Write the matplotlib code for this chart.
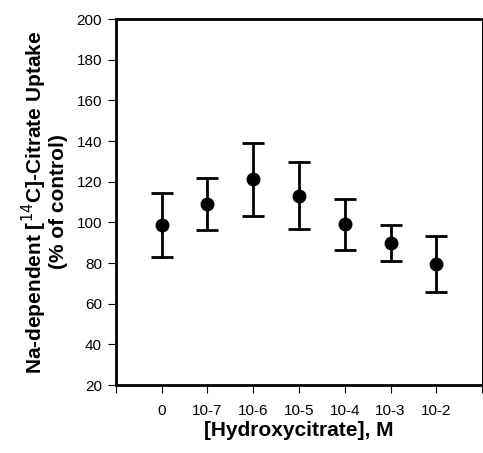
import matplotlib
matplotlib.use('Agg')
from matplotlib import pyplot as plt

plt.rcParams['font.family'] = ['Liberation Sans', 'DejaVu Sans']

posiciones = [1, 2, 3, 4, 5, 6, 7]
etiquetas = ['0', '10-7', '10-6', '10-5', '10-4', '10-3', '10-2']
captacion = [98.7, 109.0, 121.2, 113.1, 99.0, 89.8, 79.7]
error_sup = [114.4, 121.8, 139.0, 129.7, 111.5, 98.5, 93.1]
error_inf = [82.8, 96.4, 103.3, 96.7, 86.4, 81.1, 65.7]

yerr = [[c - i for c, i in zip(captacion, error_inf)],
        [s - c for c, s in zip(captacion, error_sup)]]

fig = plt.figure(figsize=(4.83, 4.53), dpi=100)
ax = fig.add_axes([0.240, 0.150, 0.758, 0.808])

ax.errorbar(posiciones, captacion, yerr=yerr, fmt='o', color='black',
            markersize=9, elinewidth=2, capsize=8, capthick=2)

ax.set_xlim(0, 8)
ax.set_ylim(20, 200)
ax.set_xticks(range(0, 9))
ax.set_xticklabels([''] + etiquetas + [''])
ax.set_yticks(range(20, 201, 20))
ax.tick_params(axis='both', direction='out', length=6, width=0.8,
               labelsize=11, pad=4)
ax.tick_params(axis='x', pad=8)

ax.spines['left'].set_linewidth(2)
ax.spines['bottom'].set_linewidth(2)
ax.spines['top'].set_linewidth(2)
ax.spines['right'].set_linewidth(0.8)

ax.set_xlabel('[Hydroxycitrate], M', fontsize=15, fontweight='bold', labelpad=2)
ax.set_ylabel('Na-dependent [$^{14}$C]-Citrate Uptake\n(% of control)',
              fontsize=15, fontweight='bold', labelpad=6, linespacing=1.0)

fig.savefig('out.png', dpi=100)
